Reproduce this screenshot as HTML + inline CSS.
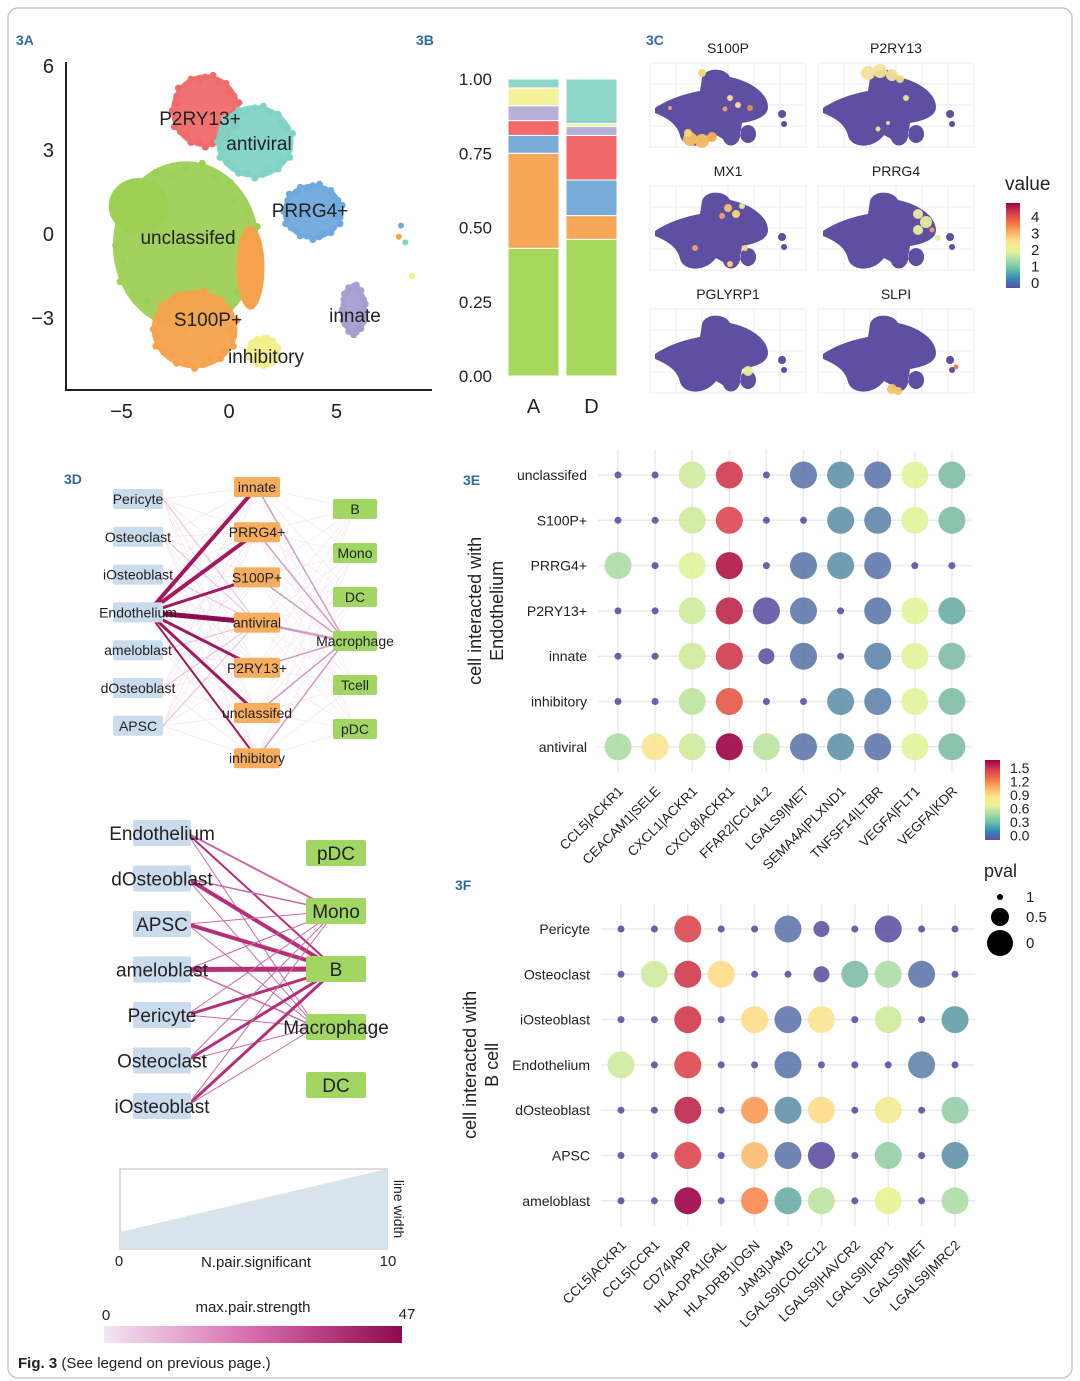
<!DOCTYPE html>
<html><head><meta charset="utf-8">
<style>
body{margin:0;background:#fff;}
svg{display:block;font-family:"Liberation Sans",sans-serif;}
</style></head>
<body>
<svg id="fig" width="1080" height="1381" viewBox="0 0 1080 1381" xmlns="http://www.w3.org/2000/svg">
<defs>
<linearGradient id="spec" x1="0" y1="1" x2="0" y2="0">
<stop offset="0" stop-color="#5e4fa2"/><stop offset="0.11" stop-color="#3288bd"/><stop offset="0.22" stop-color="#66c2a5"/><stop offset="0.33" stop-color="#abdda4"/><stop offset="0.44" stop-color="#e6f598"/><stop offset="0.55" stop-color="#fee08b"/><stop offset="0.66" stop-color="#fdae61"/><stop offset="0.77" stop-color="#f46d43"/><stop offset="0.88" stop-color="#d53e4f"/><stop offset="1" stop-color="#9e0142"/>
</linearGradient>
<linearGradient id="pink" x1="0" y1="0" x2="1" y2="0"><stop offset="0" stop-color="#f4e6f2"/><stop offset="0.5" stop-color="#d86aae"/><stop offset="1" stop-color="#8e0a4f"/></linearGradient>
<path id="blob" d="M5,45 C20,35 38,30 50,28 L52,15 C55,4 75,4 80,14 C100,18 118,30 118,44 C118,54 104,58 92,60 L90,74 C87,85 76,85 73,76 L66,72 C56,86 34,86 30,73 C28,63 20,56 5,50 Z M98,62 a8,9 0 1 0 0.1,0 Z M132,47 a4,4 0 1 0 0.1,0 Z M134,58 a3,3 0 1 0 0.1,0 Z"/>
</defs>
<rect x="8" y="8" width="1064" height="1370" rx="10" fill="#fff" stroke="#c8c8c8" stroke-width="1.5"/>
<g id="g3a"></g>
<g id="g3b"></g>
<g id="g3c"></g>
<g id="g3d"></g>
<g id="g3e"></g>
<g id="g3f"></g>
<text x="18" y="1368" font-size="15" fill="#222"><tspan font-weight="bold">Fig. 3</tspan>  (See legend on previous page.)</text>
</svg>
<script>
// ---- 3A data ----
const umapClusters=["unclassifed","P2RY13+","antiviral","PRRG4+","S100P+","inhibitory","innate"];
const umapCx=[-2.0,-1.1,1.2,3.9,-1.6,1.6,5.8];
const umapCy=[-0.4,4.4,3.3,0.8,-3.4,-4.2,-2.7];
const umapRx=[3.4,1.6,1.8,1.4,2.0,0.7,0.55];
const umapRy=[3.0,1.3,1.3,1.0,1.4,0.5,0.9];
const umapColors=["#9dcf55","#f06a6a","#80d3c4","#6fa8dc","#f5a24c","#f3ef8a","#a79fd0"];
// ---- 3B data ----
const barCats=["A","D"];
const barSegColors=["#a6d75c","#f7a755","#79acd9","#f0696b","#b8b0da","#f5f29a","#8dd6c8"];
const barA=[0.43,0.32,0.06,0.05,0.05,0.06,0.03];
const barD=[0.46,0.08,0.12,0.15,0.03,0.01,0.15];
// ---- 3C data ----
const featNames=["S100P","P2RY13","MX1","PRRG4","PGLYRP1","SLPI"];
// ---- 3E data ----
const eRows=["unclassifed","S100P+","PRRG4+","P2RY13+","innate","inhibitory","antiviral"];
const eCols=["CCL5|ACKR1","CEACAM1|SELE","CXCL1|ACKR1","CXCL8|ACKR1","FFAR2|CCL4L2","LGALS9|MET","SEMA4A|PLXND1","TNFSF14|LTBR","VEGFA|FLT1","VEGFA|KDR"];
const eVal=[[0,0,0.6,1.35,0,0.15,0.25,0.15,0.65,0.4],[0,0,0.6,1.3,0,0,0.25,0.2,0.65,0.4],[0.5,0,0.65,1.45,0,0.15,0.25,0.15,0,0],[0,0,0.6,1.4,0.02,0.15,0,0.15,0.65,0.35],[0,0,0.6,1.35,0.02,0.15,0,0.2,0.65,0.4],[0,0,0.55,1.25,0,0,0.25,0.2,0.65,0.4],[0.5,0.8,0.6,1.5,0.55,0.15,0.25,0.15,0.65,0.4]];
const ePval=[[1,1,0,0,1,0,0,0,0,0],[1,1,0,0,1,1,0,0,0,0],[0,1,0,0,1,0,0,0,1,1],[1,1,0,0,0,0,1,0,0,0],[1,1,0,0,0.5,0,1,0,0,0],[1,1,0,0,1,1,0,0,0,0],[0,0,0,0,0,0,0,0,0,0]];
// ---- 3F data ----
const fRows=["Pericyte","Osteoclast","iOsteoblast","Endothelium","dOsteoblast","APSC","ameloblast"];
const fCols=["CCL5|ACKR1","CCL5|CCR1","CD74|APP","HLA-DPA1|GAL","HLA-DRB1|OGN","JAM3|JAM3","LGALS9|COLEC12","LGALS9|HAVCR2","LGALS9|LRP1","LGALS9|MET","LGALS9|MRC2"];
const fVal=[[0,0,1.3,0,0,0.15,0.02,0,0.02,0,0],[0,0.6,1.35,0.85,0,0,0.02,0.4,0.5,0.15,0],[0,0,1.35,0,0.85,0.15,0.8,0,0.6,0,0.3],[0.6,0,1.3,0,0,0.15,0,0,0,0.2,0],[0,0,1.4,0,1.05,0.25,0.85,0,0.75,0,0.45],[0,0,1.3,0,0.95,0.15,0,0,0.45,0,0.25],[0,0,1.5,0,1.1,0.35,0.55,0,0.7,0,0.5]];
const fPval=[[1,1,0,1,1,0,0.5,1,0,1,1],[1,0,0,0,1,1,0.5,0,0,0,1],[1,1,0,1,0,0,0,1,0,1,0],[0,1,0,1,1,0,1,1,1,0,1],[1,1,0,1,0,0,0,1,0,1,0],[1,1,0,1,0,0,0,1,0,1,0],[1,1,0,1,0,0,0,1,0,1,0]];
// ---- 3D network data ----
const dLeft=["Pericyte","Osteoclast","iOsteoblast","Endothelium","ameloblast","dOsteoblast","APSC"];
const dMid=["innate","PRRG4+","S100P+","antiviral","P2RY13+","unclassifed","inhibitory"];
const dRight=["B","Mono","DC","Macrophage","Tcell","pDC"];
const dEndoWeights=[4,4,3,5,3,3,2];
const dMacroWeights=[1.5,1.5,1.5,2.5,1.5,1.5,1.5];
// ---- bottom network data ----
const nLeft=["Endothelium","dOsteoblast","APSC","ameloblast","Pericyte","Osteoclast","iOsteoblast"];
const nRight=["pDC","Mono","B","Macrophage","DC"];
const nToB=[2,4,4,5,3,3,3];
const nToMono=[2,1.5,1,1,1,1,1];
const nToMac=[1,1,1,1.5,1,1,1];

const NS="http://www.w3.org/2000/svg";
function mk(parent,tag,attrs,txt){const e=document.createElementNS(NS,tag);for(const k in attrs)e.setAttribute(k,attrs[k]);if(txt!==undefined)e.textContent=txt;parent.appendChild(e);return e;}
const specStops=["#5e4fa2","#5f7cac","#62a8a6","#abdda4","#e6f598","#fee08b","#fdae61","#f46d43","#d53e4f","#9e0142"];
function hex(h){return[parseInt(h.substr(1,2),16),parseInt(h.substr(3,2),16),parseInt(h.substr(5,2),16)];}
function spectral(t){t=Math.max(0,Math.min(1,t));const p=t*(specStops.length-1);const i=Math.min(Math.floor(p),specStops.length-2);const f=p-i;const a=hex(specStops[i]),b=hex(specStops[i+1]);const c=a.map((v,k)=>Math.round(v+(b[k]-v)*f));return`rgb(${c.join(",")})`;}
function label(g,x,y,txt,size,extra){const a=Object.assign({x:x,y:y,"font-size":size,fill:"#222"},extra||{});return mk(g,"text",a,txt);}

// ===== 3A =====
(function(){
const g=document.getElementById("g3a");
label(g,16,45,"3A",14,{fill:"#2f6aa8","font-weight":"bold"});
const sx=v=>229+v*21.5, sy=v=>234-v*28;
const ax=mk(g,"path",{d:"M66,62 V390 H432",stroke:"#222","stroke-width":2,fill:"none"});


[6,3,0,-3].forEach(v=>{const t=label(g,54,sy(v)+7,v<0?"−"+(-v):String(v),20,{"text-anchor":"end"});});
[-5,0,5].forEach(v=>{const t=label(g,sx(v),418,v<0?"−"+(-v):String(v),20,{"text-anchor":"middle"});});
umapClusters.forEach((c,i)=>{
 const cg=mk(g,"g",{});
 
 
 mk(cg,"ellipse",{cx:sx(umapCx[i]),cy:sy(umapCy[i]),rx:umapRx[i]*21.5,ry:umapRy[i]*28,fill:umapColors[i],opacity:0.95});
 const n=28;
 for(let k=0;k<n;k++){const a=k/n*Math.PI*2;const r=0.85+0.15*((k*7)%5)/4;
  mk(cg,"circle",{cx:sx(umapCx[i])+Math.cos(a)*umapRx[i]*21.5*r,cy:sy(umapCy[i])+Math.sin(a)*umapRy[i]*28*r,r:3.5,fill:umapColors[i]});}
});
mk(g,"ellipse",{cx:sx(1.0),cy:sy(-1.2),rx:14,ry:42,fill:"#f5a24c"});
mk(g,"ellipse",{cx:sx(-4.2),cy:sy(1.0),rx:30,ry:28,fill:"#9dcf55"});
[[8.2,-0.3,"#80d3c4"],[8.0,0.3,"#6fa8dc"],[8.5,-1.5,"#f3ef8a"],[7.9,-0.1,"#f5a24c"]].forEach(p=>mk(g,"circle",{cx:sx(p[0]),cy:sy(p[1]),r:3,fill:p[2]}));
const labs=[["P2RY13+",200,125],["antiviral",259,150],["PRRG4+",310,217],["unclassifed",188,244],["S100P+",208,326],["innate",355,322],["inhibitory",266,363]];
labs.forEach(l=>{const t=label(g,l[1],l[2],l[0],19,{"text-anchor":"middle"});});
})();

// ===== 3B =====
(function(){
const g=document.getElementById("g3b");
label(g,416,45,"3B",14,{fill:"#2f6aa8","font-weight":"bold"});
const y=v=>376-v*297;
[1,0.75,0.5,0.25,0].forEach(v=>{const t=label(g,492,y(v)+6,v.toFixed(2),17,{"text-anchor":"end"});});
const xs=[508,566],w=51;
[barA,barD].forEach((vals,b)=>{let acc=0;vals.forEach((v,s)=>{
 const r=mk(g,"rect",{x:xs[b],y:y(acc+v),width:w,height:v*297,fill:barSegColors[s],stroke:"#fff","stroke-width":1});
 
 
 acc+=v;});
 const t=label(g,xs[b]+w/2,413,barCats[b],20,{"text-anchor":"middle"});
});
})();

// ===== 3C =====
(function(){
const g=document.getElementById("g3c");
label(g,646,45,"3C",14,{fill:"#2f6aa8","font-weight":"bold"});
const px=[650,818],py=[63,186,309];
const spots=[
 [[40,76,"#f5c060",7],[52,78,"#f5c060",7],[62,74,"#f0b050",5],[38,70,"#f3d77a",4],[52,10,"#f3d77a",4],[80,35,"#f2e29a",3],[88,42,"#f2e29a",3],[100,45,"#e98a4a",3],[75,46,"#f0a070",2.5],[20,45,"#f0a070",2]],
 [[50,10,"#f2e29a",7],[62,8,"#f2e29a",7],[74,12,"#f2e29a",6],[82,16,"#eed88a",4],[88,35,"#eee39a",3],[60,66,"#f2e29a",2.5],[70,60,"#eee39a",2]],
 [[78,22,"#f3c46a",4],[86,28,"#f3d77a",4],[72,30,"#f0a070",3],[92,20,"#eee39a",3],[45,62,"#f0a070",3],[80,78,"#f3d77a",3],[95,62,"#f3d77a",3]],
 [[100,28,"#e8ec9a",5],[108,36,"#e8ec9a",6],[100,44,"#e8ec9a",5],[114,44,"#e8a060",2.5],[120,52,"#e8ec9a",3]],
 [[98,62,"#e8ec9a",5]],
 [[74,80,"#f3c46a",5],[80,82,"#f3c46a",4],[138,58,"#f07050",2.5]]
];
featNames.forEach((n,i)=>{
 const x=px[i%2],yy=py[Math.floor(i/2)];
 const pg=mk(g,"g",{transform:`translate(${x},${yy})`});
 
 
 for(let k=0;k<=4;k++){mk(pg,"line",{x1:0,x2:155,y1:k*21,y2:k*21,stroke:"#ececec"});}
 for(let k=0;k<=6;k++){mk(pg,"line",{x1:k*26,x2:k*26,y1:0,y2:85,stroke:"#ececec"});}
 mk(pg,"use",{href:"#blob",fill:"#5e4fa2"});
 spots[i].forEach(s=>mk(pg,"circle",{cx:s[0],cy:s[1],r:s[3],fill:s[2],opacity:0.95}));
 const t=label(g,x+78,yy-10,n,14,{"text-anchor":"middle"});
});
const t=label(g,1005,190,"value",19);
const cb=mk(g,"rect",{x:1006,y:203,width:14,height:85,fill:"url(#spec)"});
[4,3,2,1,0].forEach((v,k)=>label(g,1031,222+k*16.5,String(v),15));
})();

// ===== 3E / 3F dot plots =====
function dotplot(gid,tag,rows,cols,vals,pv,x0,dx,y0,dy,rmax,titleLines,titleX,labY){
 const g=document.getElementById(gid);
 label(g,tag[1],tag[2],tag[0],14,{fill:"#2f6aa8","font-weight":"bold"});
 const cx=j=>x0+j*dx, cy=i=>y0+i*dy;
 cols.forEach((c,j)=>mk(g,"line",{x1:cx(j),x2:cx(j),y1:y0-25,y2:cy(rows.length-1)+25,stroke:"#ebebeb","stroke-width":1.5}));
 rows.forEach((r,i)=>{mk(g,"line",{x1:x0-20,x2:cx(cols.length-1)+20,y1:cy(i),y2:cy(i),stroke:"#ebebeb","stroke-width":1.5});
  const t=label(g,x0-31,cy(i)+5,r,14,{"text-anchor":"end"});});
 const sz=p=>p>=1?3.5:(p>=0.5?8:rmax);
 rows.forEach((r,i)=>cols.forEach((c,j)=>{
  const d=mk(g,"circle",{cx:cx(j),cy:cy(i),r:sz(pv[i][j]),fill:spectral(vals[i][j]/1.5),opacity:0.9});
  
  
 }));
 cols.forEach((c,j)=>{const t=label(g,0,0,c,13.5,{"text-anchor":"end",transform:`translate(${cx(j)+6},${labY}) rotate(-45)`});});
 const my=(y0+cy(rows.length-1))/2;
 titleLines.forEach((l,k)=>{const t=label(g,0,0,l,18,{"text-anchor":"middle",transform:`translate(${titleX+k*22},${my}) rotate(-90)`});});
}
dotplot("g3e",["3E",463,485],eRows,eCols,eVal,ePval,618,37.1,475,45.3,13.5,["cell interacted with","Endothelium"],481,792);
dotplot("g3f",["3F",455,890],fRows,fCols,fVal,fPval,621,33.4,929,45.3,13.5,["cell interacted with","B cell"],476,1246);
(function(){
const g=document.getElementById("g3e");
const cb=mk(g,"rect",{x:985,y:760,width:15,height:80,fill:"url(#spec)"});
["1.5","1.2","0.9","0.6","0.3","0.0"].forEach((v,k)=>label(g,1010,773+k*13.5,v,14));
const t=label(g,984,877,"pval",18);
[[897,3,"1"],[917,9,"0.5"],[943,13,"0"]].forEach(p=>{mk(g,"circle",{cx:1000,cy:p[0],r:p[1],fill:"#000"});label(g,1026,p[0]+5,p[2],15);});
})();

// ===== 3D network =====
(function(){
const g=document.getElementById("g3d");
label(g,64,484,"3D",14,{fill:"#2f6aa8","font-weight":"bold"});
const ly=i=>499+i*37.8, my=i=>487+i*45.2, ry=i=>509+i*44;
const lx=138,mx=257,rx=355;
dLeft.forEach((l,i)=>dMid.forEach((m,j)=>{if(i!==3)mk(g,"line",{x1:lx+25,y1:ly(i),x2:mx,y2:my(j),stroke:"#f3e6ef","stroke-width":0.8});}));
dMid.forEach((m,j)=>dRight.forEach((r,k)=>{if(k!==3)mk(g,"line",{x1:mx,y1:my(j),x2:rx,y2:ry(k),stroke:"#f5eaf2","stroke-width":0.8});}));
dMid.forEach((m,j)=>{const e=mk(g,"line",{x1:mx,y1:my(j),x2:rx-10,y2:ry(3),stroke:"#d89ac4","stroke-width":dMacroWeights[j]});});
dLeft.forEach((l,i)=>{if(i!==3)mk(g,"line",{x1:lx+25,y1:ly(i),x2:mx,y2:my(3),stroke:"#ecc6de","stroke-width":1.2});});
dMid.forEach((m,j)=>{const e=mk(g,"line",{x1:lx+10,y1:ly(3),x2:mx,y2:my(j),stroke:j===3?"#8e0a4f":"#a3195f","stroke-width":dEndoWeights[j]});});
function box(x,y,w,txt,fill,fs,name){const bg=mk(g,"g",{});
 mk(bg,"rect",{x:x-w/2,y:y-10,width:w,height:20,rx:2,fill:fill});label(bg,x,y+5,txt,fs,{"text-anchor":"middle"});}
dLeft.forEach((l,i)=>box(lx,ly(i),50,l,"#c9dbec",14,'node-'+l.toLowerCase()));
dMid.forEach((m,j)=>box(mx,my(j),46,m,"#f6ad5e",14,'node-'+m.replace('+','').toLowerCase()));
dRight.forEach((r,k)=>box(rx,ry(k),44,r,"#a2d663",14,'node-'+r.toLowerCase()));
})();

// ===== bottom network =====
(function(){
const g=document.getElementById("g3d");
const ly=i=>833+i*45.5, ry=i=>853+i*58;
const lx=162,rx=336;
nLeft.forEach((l,i)=>{
 const a=mk(g,"line",{x1:lx+25,y1:ly(i),x2:rx,y2:ry(2),stroke:"#b82d7a","stroke-width":nToB[i]});
 const b=mk(g,"line",{x1:lx+25,y1:ly(i),x2:rx,y2:ry(1),stroke:"#cc68a4","stroke-width":nToMono[i]});
 const c=mk(g,"line",{x1:lx+25,y1:ly(i),x2:rx-20,y2:ry(3),stroke:"#cc68a4","stroke-width":nToMac[i]});
});
function box(x,y,w,txt,fill,name){const bg=mk(g,"g",{});
 mk(bg,"rect",{x:x-w/2,y:y-13,width:w,height:26,rx:2,fill:fill});label(bg,x,y+7,txt,19,{"text-anchor":"middle"});}
nLeft.forEach((l,i)=>box(lx,ly(i),58,l,"#c9dbec",'bnode-'+l.toLowerCase()));
nRight.forEach((r,k)=>box(rx,ry(k),60,r,"#a2d663",'bnode-'+r.toLowerCase()));
const lg=mk(g,"g",{});
mk(lg,"rect",{x:120,y:1169,width:267,height:80,fill:"#fff",stroke:"#bbb"});
mk(lg,"polygon",{points:"120,1232 387,1169 387,1249 120,1249",fill:"#d7e4ec"});
label(lg,119,1266,"0",15,{"text-anchor":"middle"});
label(lg,256,1267,"N.pair.significant",15,{"text-anchor":"middle"});
label(lg,388,1266,"10",15,{"text-anchor":"middle"});
label(lg,0,0,"line width",14,{"text-anchor":"middle",transform:"translate(394,1209) rotate(90)"});
const sg=mk(g,"g",{});
mk(sg,"rect",{x:104,y:1326,width:298,height:17,fill:"url(#pink)"});
label(sg,106,1320,"0",15,{"text-anchor":"middle"});
label(sg,253,1312,"max.pair.strength",15,{"text-anchor":"middle"});
label(sg,407,1319,"47",15,{"text-anchor":"middle"});
})();
</script>
</body></html>
